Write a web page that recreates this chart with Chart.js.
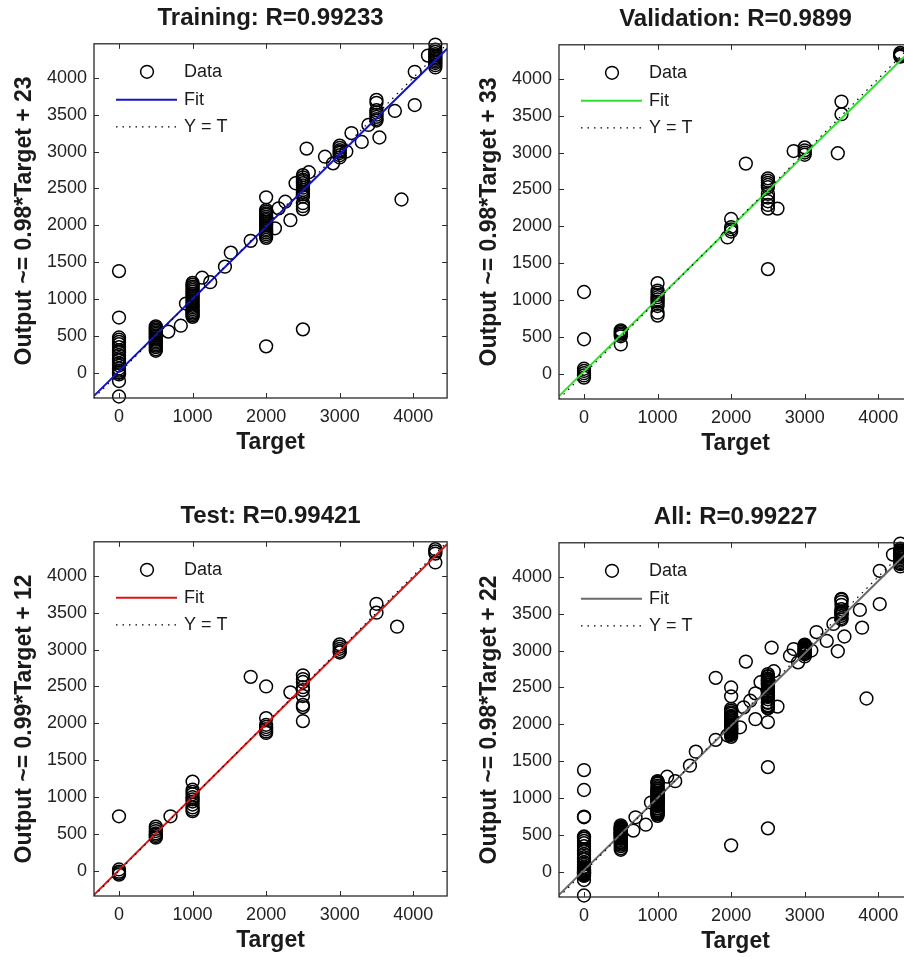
<!DOCTYPE html>
<html>
<head>
<meta charset="utf-8">
<title>Regression plots</title>
<script src="https://cdn.jsdelivr.net/npm/chart.js@4.4.0/dist/chart.umd.min.js"></script>
<style>
  html, body { margin: 0; padding: 0; background: #fff; overflow: hidden; }
  body { width: 904px; height: 957px; position: relative; }
  canvas { position: absolute; }
</style>
</head>
<body>
<canvas id="chartTraining" width="455" height="460" style="left:0px;top:0px"></canvas>
<canvas id="chartValidation" width="455" height="460" style="left:465px;top:1px"></canvas>
<canvas id="chartTest" width="455" height="460" style="left:0px;top:498px"></canvas>
<canvas id="chartAll" width="455" height="460" style="left:465px;top:499px"></canvas>
<script>
// axis limits shared by all four panels (same for Target and Output)
const axisLimits = [-340, 4460];
const xTickValues = [0, 1000, 2000, 3000, 4000];
const yTickValues = [0, 500, 1000, 1500, 2000, 2500, 3000, 3500, 4000];

const panelNames = ["Training", "Validation", "Test", "All"];
const panelR = ["0.99233", "0.9899", "0.99421", "0.99227"];
const fitSlopes = [0.98, 0.98, 0.99, 0.98];
const fitIntercepts = [23, 33, 12, 22];
const legendLabels = ["Data", "Fit", "Y = T"];

// [target, output] pairs
const trainingPoints = [
  [0,1380],[0,750],[0,480],[0,450],[0,420],[0,390],[0,350],[0,310],[0,280],[0,240],[0,200],[0,170],
  [0,130],[0,100],[0,60],[0,30],[0,10],[0,0],[0,-20],[0,-110],[0,-320],
  [500,630],[500,610],[500,590],[500,570],[500,550],[500,530],[500,510],[500,490],[500,470],[500,450],
  [500,430],[500,410],[500,390],[500,370],[500,350],[500,320],[500,300],
  [670,560],[840,640],
  [1000,1220],[1000,1195],[1000,1170],[1000,1150],[1000,1125],[1000,1100],[1000,1075],[1000,1050],
  [1000,1030],[1000,1005],[1000,980],[1000,960],[1000,935],[1000,910],[1000,890],[1000,865],[1000,840],
  [1000,820],[1000,800],[1000,780],[1000,760],
  [910,940],[1130,1290],[1240,1230],[1440,1440],[1520,1630],[1790,1790],
  [2000,2380],[2000,2210],[2000,2185],[2000,2160],[2000,2140],[2000,2115],[2000,2090],[2000,2070],
  [2000,2045],[2000,2020],[2000,2000],[2000,1975],[2000,1950],[2000,1930],[2000,1905],[2000,1880],
  [2000,1855],[2000,1830],[2000,360],
  [2120,1960],[2170,2230],[2260,2320],[2330,2070],
  [2500,2680],[2500,2650],[2500,2620],[2500,2600],[2500,2570],[2500,2540],[2500,2510],[2500,2480],
  [2500,2450],[2500,2420],[2500,2390],[2500,2300],[2500,2260],[2500,2220],[2500,590],
  [2400,2570],[2550,3040],[2580,2720],[2800,2930],[2910,2840],
  [3000,3080],[3000,3050],[3000,3020],[3000,3000],[3000,2980],[3000,2950],[3000,2920],
  [3090,3000],[3160,3250],[3300,3130],[3390,3360],
  [3500,3700],[3500,3660],[3500,3560],[3500,3530],[3500,3500],[3500,3470],[3500,3440],[3500,3420],
  [3540,3190],[3750,3550],[3840,2350],[4020,4080],[4020,3630],
  [4300,4450],[4300,4380],[4300,4350],[4300,4320],[4300,4300],[4300,4280],[4300,4260],[4300,4240],
  [4300,4220],[4300,4200],[4300,4170],[4300,4140],[4200,4300]
];

const validationPoints = [
  [0,1110],[0,470],[0,70],[0,40],[0,10],[0,-20],[0,-50],
  [500,590],[500,570],[500,550],[500,530],[500,510],[500,400],
  [1000,1230],[1000,1130],[1000,1100],[1000,1070],[1000,1040],[1000,1010],[1000,980],[1000,950],
  [1000,920],[1000,830],[1000,790],
  [2000,2100],[2000,1990],[2000,1960],[2000,1930],[1950,1850],
  [2200,2850],
  [2500,2650],[2500,2620],[2500,2590],[2500,2560],[2500,2530],[2500,2440],[2500,2390],[2500,2340],
  [2500,2290],[2500,2240],[2500,1420],
  [2630,2240],[2850,3020],
  [3000,3070],[3000,3030],[3000,3000],[3000,2970],
  [3450,2990],[3500,3690],[3500,3520],
  [4300,4350],[4300,4330],[4300,4310],[4300,4300]
];

const testPoints = [
  [0,740],[0,20],[0,-10],[0,-30],[0,-50],
  [500,600],[500,570],[500,540],[500,510],[500,490],[500,470],[500,450],
  [700,740],
  [1000,1210],[1000,1100],[1000,1070],[1000,1040],[1000,1000],[1000,970],[1000,940],[1000,900],
  [1000,860],[1000,830],[1000,810],
  [1790,2630],
  [2000,2500],[2000,2070],[2000,1980],[2000,1950],[2000,1920],[2000,1890],[2000,1870],
  [2330,2420],
  [2500,2650],[2500,2600],[2500,2560],[2500,2490],[2500,2450],[2500,2370],[2500,2250],[2500,2220],[2500,2030],
  [3000,3070],[3000,3040],[3000,3010],[3000,2980],[3000,2960],
  [3500,3620],[3500,3500],[3780,3310],
  [4300,4360],[4300,4330],[4300,4300],[4300,4180]
];

// "All" is simply the three subsets together
const allPoints = [...trainingPoints, ...validationPoints, ...testPoints];
const panelPoints = [trainingPoints, validationPoints, testPoints, allPoints];

const FONT = "'Liberation Sans', Arial, Helvetica, sans-serif";
const FIT_COLORS = ["#1414c8", "#2ee02e", "#e01414", "#6a6a6a"];
const INK = "#1a1a1a";
const TICK_LEN = 5;

// plot box with MATLAB-style inward ticks on all four sides
const axesBoxPlugin = {
  id: "axesBox",
  afterDraw(chart) {
    const { ctx, chartArea: a, scales } = chart;
    ctx.save();
    ctx.strokeStyle = "#2a2a2a";
    ctx.lineWidth = 1.3;
    ctx.strokeRect(a.left, a.top, a.right - a.left, a.bottom - a.top);
    ctx.beginPath();
    scales.x.ticks.forEach(t => {
      const px = Math.round(scales.x.getPixelForValue(t.value)) + 0.5;
      ctx.moveTo(px, a.bottom); ctx.lineTo(px, a.bottom - TICK_LEN);
      ctx.moveTo(px, a.top); ctx.lineTo(px, a.top + TICK_LEN);
    });
    scales.y.ticks.forEach(t => {
      const py = Math.round(scales.y.getPixelForValue(t.value)) + 0.5;
      ctx.moveTo(a.left, py); ctx.lineTo(a.left + TICK_LEN, py);
      ctx.moveTo(a.right, py); ctx.lineTo(a.right - TICK_LEN, py);
    });
    ctx.lineWidth = 1;
    ctx.stroke();
    ctx.restore();
  }
};

// legend drawn inside the upper-left corner of the plot, no frame
const insideLegendPlugin = {
  id: "insideLegend",
  afterDraw(chart) {
    const { ctx, chartArea: a } = chart;
    const ds = chart.data.datasets;
    const symX0 = a.left + 22, symX1 = a.left + 83, textX = a.left + 90;
    const rowY = [a.top + 28, a.top + 56, a.top + 83];
    ctx.save();
    ctx.font = "18px " + FONT;
    ctx.fillStyle = INK;
    ctx.textBaseline = "middle";
    ctx.textAlign = "left";

    // Data: circle marker
    ctx.beginPath();
    ctx.arc(a.left + 53, rowY[0], ds[0].pointRadius, 0, Math.PI * 2);
    ctx.strokeStyle = ds[0].borderColor;
    ctx.lineWidth = ds[0].borderWidth;
    ctx.stroke();
    ctx.fillText(ds[0].label, textX, rowY[0]);

    // Fit: solid line
    ctx.beginPath();
    ctx.moveTo(symX0, rowY[1]); ctx.lineTo(symX1, rowY[1]);
    ctx.strokeStyle = ds[1].borderColor;
    ctx.lineWidth = ds[1].borderWidth;
    ctx.stroke();
    ctx.fillText(ds[1].label, textX, rowY[1]);

    // Y = T: dotted line
    ctx.beginPath();
    ctx.setLineDash(ds[2].borderDash);
    ctx.moveTo(symX0, rowY[2]); ctx.lineTo(symX1, rowY[2]);
    ctx.strokeStyle = ds[2].borderColor;
    ctx.lineWidth = ds[2].borderWidth;
    ctx.stroke();
    ctx.setLineDash([]);
    ctx.fillText(ds[2].label, textX, rowY[2]);
    ctx.restore();
  }
};

function renderPanel(canvasId, i) {
  const canvas = document.getElementById(canvasId);
  const [lo, hi] = axisLimits;
  const slope = fitSlopes[i], icpt = fitIntercepts[i];
  const fitLine = [{ x: lo, y: slope * lo + icpt }, { x: hi, y: slope * hi + icpt }];
  const identity = [{ x: lo, y: lo }, { x: hi, y: hi }];
  const tickFont = { family: FONT, size: 18 };
  const labelFont = { family: FONT, size: 23, weight: "bold", lineHeight: 1.2 };

  return new Chart(canvas, {
    type: "scatter",
    data: {
      datasets: [
        {
          label: legendLabels[0],
          data: panelPoints[i].map(p => ({ x: p[0], y: p[1] })),
          pointStyle: "circle", pointRadius: 6.4, pointBorderWidth: 1.5, borderWidth: 1.5,
          borderColor: "#000", backgroundColor: "rgba(0,0,0,0)",
          clip: false, order: 3
        },
        {
          label: legendLabels[1], data: fitLine, showLine: true,
          borderColor: FIT_COLORS[i], borderWidth: 2, pointRadius: 0, order: 2
        },
        {
          label: legendLabels[2], data: identity, showLine: true,
          borderColor: "#000", borderWidth: 1.2, borderDash: [1.5, 5], pointRadius: 0, order: 1
        }
      ]
    },
    options: {
      responsive: false,
      animation: false,
      devicePixelRatio: 1,
      layout: { padding: { top: 0, left: 0, right: 6, bottom: 0 } },
      plugins: {
        legend: { display: false },
        tooltip: { enabled: false },
        title: {
          display: true,
          fullSize: false,
          text: `${panelNames[i]}: R=${panelR[i]}`,
          color: INK,
          font: { family: FONT, size: 24, weight: "bold", lineHeight: 1.2 },
          padding: { top: 4, bottom: 11 }
        }
      },
      scales: {
        x: {
          type: "linear", min: lo, max: hi,
          grid: { display: false, drawTicks: false },
          border: { display: false },
          ticks: { autoSkip: false, padding: 8, color: "#222", font: tickFont, callback: v => String(v) },
          afterBuildTicks(scale) { scale.ticks = xTickValues.map(v => ({ value: v })); },
          title: { display: true, text: "Target", color: INK, font: labelFont,
                   padding: { top: 0, bottom: 4 } },
          afterFit(scale) { scale.height = 62; }
        },
        y: {
          type: "linear", min: lo, max: hi,
          grid: { display: false, drawTicks: false },
          border: { display: false },
          ticks: { autoSkip: false, padding: 7, color: "#222", font: tickFont, callback: v => String(v) },
          afterBuildTicks(scale) { scale.ticks = yTickValues.map(v => ({ value: v })); },
          title: { display: true, text: `Output ~= ${slope}*Target + ${icpt}`, color: INK, font: labelFont,
                   padding: { top: 11, bottom: 0 } },
          afterFit(scale) { scale.width = 94; }
        }
      }
    },
    plugins: [axesBoxPlugin, insideLegendPlugin]
  });
}

renderPanel("chartTraining", 0);
renderPanel("chartValidation", 1);
renderPanel("chartTest", 2);
renderPanel("chartAll", 3);
</script>
</body>
</html>
